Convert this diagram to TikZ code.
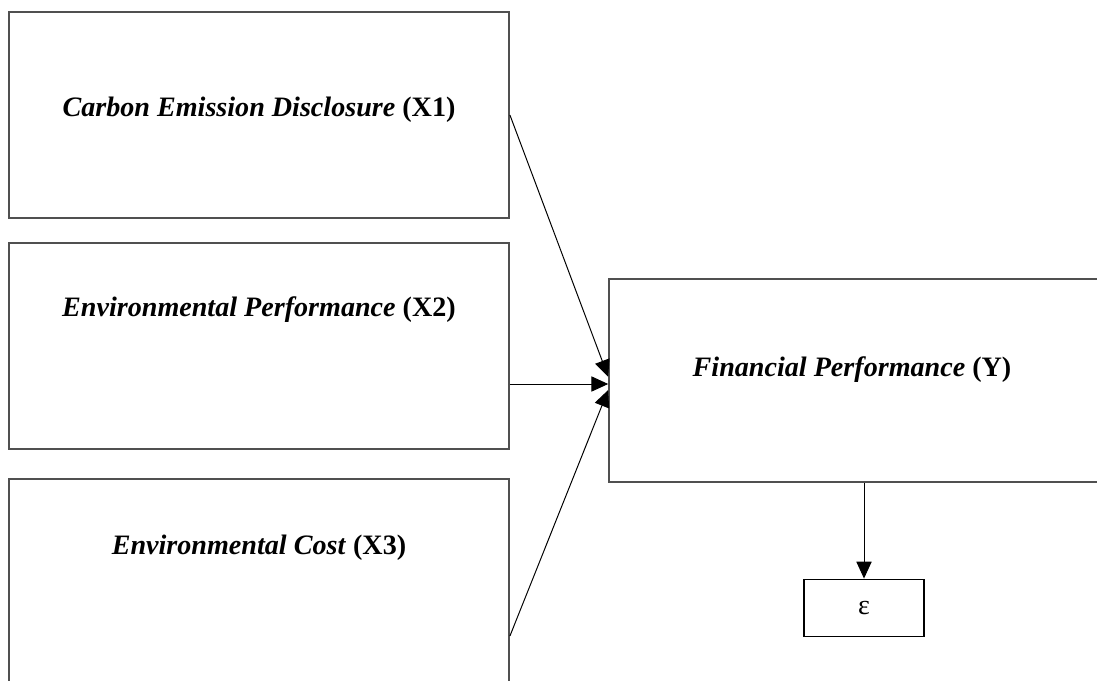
\documentclass[tikz,border=0pt]{standalone}
\usepackage{fontspec}
\setmainfont{Liberation Serif}
\usetikzlibrary{positioning,arrows.meta}
\definecolor{boxgray}{RGB}{80,80,80}

\begin{document}
\begin{tikzpicture}[
    varbox/.style={draw=boxgray, line width=1.3pt, minimum width=12.5cm, minimum height=5.15cm},
    vartext/.style={font=\fontsize{20}{24}\selectfont, align=center},
    link/.style={-{Triangle[length=0.42cm, width=0.38cm]}, line width=0.7pt, black}
  ]
  \useasboundingbox (0,0) rectangle (27.425,-17);

  % independent variables
  \node[varbox] (x1) at (6.475,-2.875) {};
  \node[varbox] (x2) at (6.475,-8.65) {};
  \node[varbox] (x3) at (6.475,-14.55) {};
  \node[vartext] (x1t) at (6.475,-2.75) {\textbf{\textit{Carbon Emission Disclosure}} \textbf{(X1)}};
  \node[vartext] (x2t) at (6.475,-7.75) {\textbf{\textit{Environmental Performance}} \textbf{(X2)}};
  \node[vartext] (x3t) at (6.475,-13.7) {\textbf{\textit{Environmental Cost}} \textbf{(X3)}};

  % dependent variable and error term
  \node[varbox, minimum width=12.525cm, minimum height=5.08cm] (fp) at (21.49,-9.51) {};
  \node[vartext] (fpt) at (21.3,-9.25) {\textbf{\textit{Financial Performance}} \textbf{(Y)}};
  \node[draw=black, line width=0.8pt, minimum width=3cm, minimum height=1.425cm,
        font=\fontsize{20}{24}\selectfont] (eps) at (21.6,-15.19) {ε};

  \draw[link] (x1.east) -- ([yshift=0.09cm]fp.west);
  \draw[link] ([yshift=-0.95cm]x2.east) -- ([yshift=-0.09cm]fp.west);
  \draw[link] ([yshift=-1.35cm]x3.east) -- ([yshift=-0.24cm]fp.west);
  \draw[link] (fp.south -| eps.north) -- (eps.north);
\end{tikzpicture}
\end{document}
